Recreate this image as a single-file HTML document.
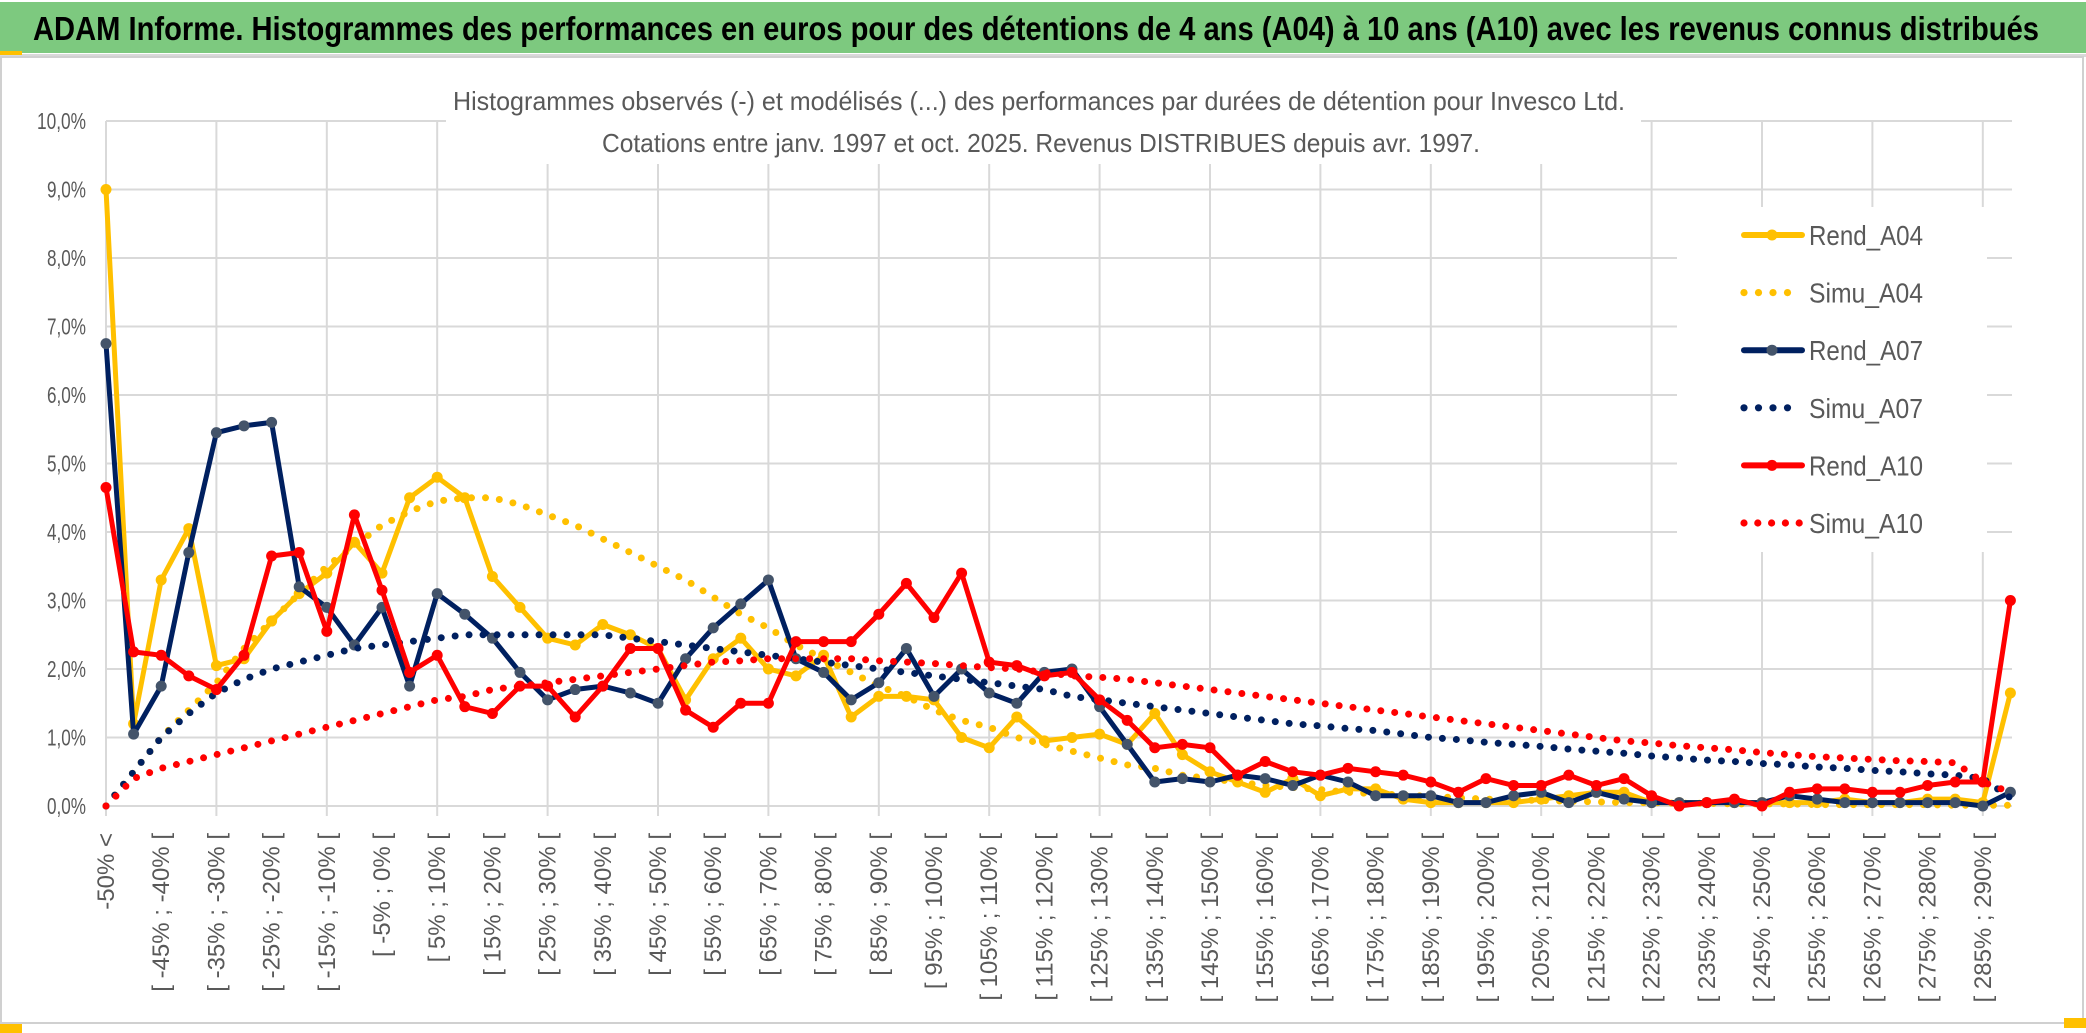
<!DOCTYPE html>
<html><head><meta charset="utf-8"><style>
html,body{margin:0;padding:0;background:#fff}
svg{display:block}
text{font-family:"Liberation Sans",sans-serif}
</style></head><body>
<svg id="chart" width="2086" height="1033" viewBox="0 0 2086 1033" xmlns="http://www.w3.org/2000/svg">
<rect x="0" y="0" width="2086" height="1033" fill="#fff"/>
<rect x="0" y="2" width="2086" height="51" fill="#7DC97F"/>
<rect x="0" y="54" width="2086" height="3" fill="#d9d9d9"/>
<rect x="0" y="51" width="22" height="4" fill="#FFC000"/>
<text x="33" y="40" font-size="33" font-weight="bold" fill="#000" textLength="2006" lengthAdjust="spacingAndGlyphs">ADAM Informe. Histogrammes des performances en euros pour des détentions de 4 ans (A04) à 10 ans (A10) avec les revenus connus distribués</text>
<rect x="1" y="57" width="2082" height="966" fill="none" stroke="#d0d0d0" stroke-width="2"/>
<rect x="0" y="1024" width="22" height="9" fill="#FFC000"/>
<rect x="2064" y="1018" width="22" height="10" fill="#FFC000"/>
<g id="grid"></g>
<rect x="446" y="84" width="1195" height="80" fill="#fff"/>
<text x="453" y="110" font-size="26" fill="#595959" textLength="1172" lengthAdjust="spacingAndGlyphs">Histogrammes observés (-) et modélisés (...) des performances par durées de détention pour Invesco Ltd.</text>
<text x="602" y="152" font-size="26" fill="#595959" textLength="878" lengthAdjust="spacingAndGlyphs">Cotations entre janv. 1997 et oct. 2025. Revenus DISTRIBUES depuis avr. 1997.</text>
<g id="ylabels"></g>
<g id="xlabels"></g>
<g id="series"></g>
<g id="legend"></g>
</svg>
<script>
const categories = (function(){ const c=["-50% <"]; for(let lo=-50; lo<=285; lo+=5){ c.push("[ "+lo+"% ; "+(lo+5)+"% ["); } return c; })();
const yTicks = [0,1,2,3,4,5,6,7,8,9,10];
const yTickLabels = ["0,0%","1,0%","2,0%","3,0%","4,0%","5,0%","6,0%","7,0%","8,0%","9,0%","10,0%"];
const rendA04 = [9.0,1.2,3.3,4.05,2.05,2.15,2.7,3.1,3.4,3.85,3.4,4.5,4.8,4.5,3.35,2.9,2.45,2.35,2.65,2.5,2.3,1.55,2.15,2.45,2.0,1.9,2.2,1.3,1.6,1.6,1.55,1.0,0.85,1.3,0.95,1.0,1.05,0.9,1.35,0.75,0.5,0.35,0.2,0.4,0.15,0.25,0.25,0.1,0.05,0.05,0.05,0.05,0.1,0.15,0.2,0.2,0.05,0.05,0.05,0.05,0.05,0.05,0.05,0.1,0.05,0.05,0.1,0.1,0.05,1.65];
const simuA04 = [0,0.5,1.0,1.4,1.8,2.3,2.7,3.1,3.5,3.8,4.1,4.3,4.45,4.5,4.5,4.4,4.25,4.1,3.9,3.7,3.5,3.3,3.05,2.8,2.6,2.35,2.15,1.95,1.75,1.6,1.4,1.25,1.15,1.0,0.9,0.8,0.7,0.6,0.55,0.45,0.4,0.35,0.3,0.27,0.24,0.2,0.18,0.16,0.14,0.12,0.1,0.09,0.08,0.07,0.06,0.05,0.05,0.04,0.04,0.03,0.03,0.03,0.02,0.02,0.02,0.02,0.02,0.01,0.01,0.01];
const rendA07 = [6.75,1.05,1.75,3.7,5.45,5.55,5.6,3.2,2.9,2.35,2.9,1.75,3.1,2.8,2.45,1.95,1.55,1.7,1.75,1.65,1.5,2.15,2.6,2.95,3.3,2.15,1.95,1.55,1.8,2.3,1.6,2.0,1.65,1.5,1.95,2.0,1.45,0.9,0.35,0.4,0.35,0.45,0.4,0.3,0.45,0.35,0.15,0.15,0.15,0.05,0.05,0.15,0.2,0.05,0.2,0.1,0.05,0.05,0.05,0.05,0.05,0.15,0.1,0.05,0.05,0.05,0.05,0.05,0.0,0.2];
const simuA07 = [0,0.5,1.0,1.35,1.65,1.85,2.0,2.1,2.2,2.3,2.35,2.4,2.45,2.5,2.5,2.5,2.5,2.5,2.5,2.45,2.4,2.35,2.3,2.25,2.2,2.15,2.1,2.05,2.0,1.95,1.9,1.85,1.8,1.75,1.7,1.6,1.55,1.5,1.45,1.4,1.35,1.3,1.25,1.2,1.17,1.13,1.1,1.05,1.0,0.97,0.93,0.9,0.87,0.83,0.8,0.77,0.73,0.7,0.67,0.65,0.62,0.6,0.57,0.55,0.52,0.5,0.47,0.45,0.4,0.12];
const rendA10 = [4.65,2.25,2.2,1.9,1.7,2.2,3.65,3.7,2.55,4.25,3.15,1.95,2.2,1.45,1.35,1.75,1.75,1.3,1.75,2.3,2.3,1.4,1.15,1.5,1.5,2.4,2.4,2.4,2.8,3.25,2.75,3.4,2.1,2.05,1.9,1.95,1.55,1.25,0.85,0.9,0.85,0.45,0.65,0.5,0.45,0.55,0.5,0.45,0.35,0.2,0.4,0.3,0.3,0.45,0.3,0.4,0.15,0.0,0.05,0.1,0.0,0.2,0.25,0.25,0.2,0.2,0.3,0.35,0.35,3.0];
const simuA10 = [0,0.4,0.55,0.65,0.75,0.85,0.95,1.05,1.15,1.25,1.35,1.45,1.55,1.6,1.7,1.75,1.8,1.85,1.9,1.95,2.0,2.05,2.1,2.12,2.15,2.15,2.15,2.15,2.12,2.1,2.08,2.05,2.02,2.0,1.95,1.9,1.88,1.85,1.8,1.75,1.7,1.65,1.6,1.55,1.5,1.45,1.4,1.35,1.3,1.25,1.2,1.15,1.1,1.05,1.0,0.95,0.92,0.88,0.85,0.82,0.78,0.75,0.72,0.7,0.68,0.66,0.65,0.63,0.35,0.2];
const seriesNames = ["Rend_A04","Simu_A04","Rend_A07","Simu_A07","Rend_A10","Simu_A10"];

const NS="http://www.w3.org/2000/svg";
const X0=106, DX=27.6, Y0=806, PY=68.5, XR=2012;
function xs(i){ return X0+i*DX; }
function ys(v){ return Y0-v*PY; }
function mk(tag, attrs, parent){ const e=document.createElementNS(NS,tag); for(const k in attrs) e.setAttribute(k,attrs[k]); parent.appendChild(e); return e; }

const grid=document.getElementById('grid');
yTicks.forEach(t=>{ const l=mk('line',{x1:X0,x2:XR,y1:ys(t),y2:ys(t),stroke:'#d9d9d9','stroke-width':2},grid);

 });
for(let i=0;i<categories.length;i+=4){ const l=mk('line',{x1:xs(i),x2:xs(i),y1:ys(10),y2:Y0+10,stroke:'#d9d9d9','stroke-width':2},grid);

 }

const yl=document.getElementById('ylabels');
yTicks.forEach((t,k)=>{ const w = yTickLabels[k].length>4 ? 49 : 39; const tx=mk('text',{x:86,y:ys(t)+8,'text-anchor':'end','font-size':23,fill:'#595959',textLength:w,lengthAdjust:'spacingAndGlyphs'},yl); tx.textContent=yTickLabels[k];

 });

const xl=document.getElementById('xlabels');
for(let i=0;i<categories.length;i+=2){ const x=xs(i)+8, y=833; const tx=mk('text',{x:x,y:y,'text-anchor':'end','font-size':24,fill:'#595959',transform:'rotate(-90 '+x+' '+y+')'},xl); tx.textContent=categories[i];

 }

const sg=document.getElementById('series');
function drawRend(data,color,marker,name){
  const g=mk('g',{},sg);
  
  
  const pts=data.map((v,i)=>xs(i).toFixed(1)+','+ys(v).toFixed(1)).join(' ');
  mk('polyline',{points:pts,fill:'none',stroke:color,'stroke-width':5,'stroke-linejoin':'round'},g);
  data.forEach((v,i)=>{ const c=mk('circle',{cx:xs(i),cy:ys(v),r:5.5,fill:marker},g);
  
   });
}
function drawSimu(data,color,name){
  const pts=data.map((v,i)=>xs(i).toFixed(1)+','+ys(v).toFixed(1)).join(' ');
  const p=mk('polyline',{points:pts,fill:'none',stroke:color,'stroke-width':7,'stroke-linecap':'round','stroke-dasharray':'0 14'},sg);
  
  
}
drawRend(rendA04,'#FFC000','#FFC000','rend-a04-line');
drawSimu(simuA04,'#FFC000','simu-a04-line');
drawRend(rendA07,'#002060','#44546A','rend-a07-line');
drawSimu(simuA07,'#002060','simu-a07-line');
drawRend(rendA10,'#FF0000','#FF0000','rend-a10-line');
drawSimu(simuA10,'#FF0000','simu-a10-line');

const lg=document.getElementById('legend');
mk('rect',{x:1677,y:207,width:310,height:345,fill:'#fff'},lg);
const lcol=['#FFC000','#FFC000','#002060','#002060','#FF0000','#FF0000'];
const lmark=['#FFC000',null,'#44546A',null,'#FF0000',null];
seriesNames.forEach((n,k)=>{
  const y=235+k*57.6;
  const g=mk('g',{},lg);
  
  
  if(lmark[k]){ mk('line',{x1:1744,x2:1802,y1:y,y2:y,stroke:lcol[k],'stroke-width':6,'stroke-linecap':'round'},g);
    mk('circle',{cx:1772,cy:y,r:5.5,fill:lmark[k]},g); }
  else { const cnt = k===5?5:4; for(let d=0;d<cnt;d++) mk('circle',{cx:1744+d*(k===5?13.8:14.5),cy:y,r:3.6,fill:lcol[k]},g); }
  const t=mk('text',{x:1809,y:y+10,'font-size':28,fill:'#595959',textLength:114,lengthAdjust:'spacingAndGlyphs'},g); t.textContent=n;
});
</script>
</body></html>
